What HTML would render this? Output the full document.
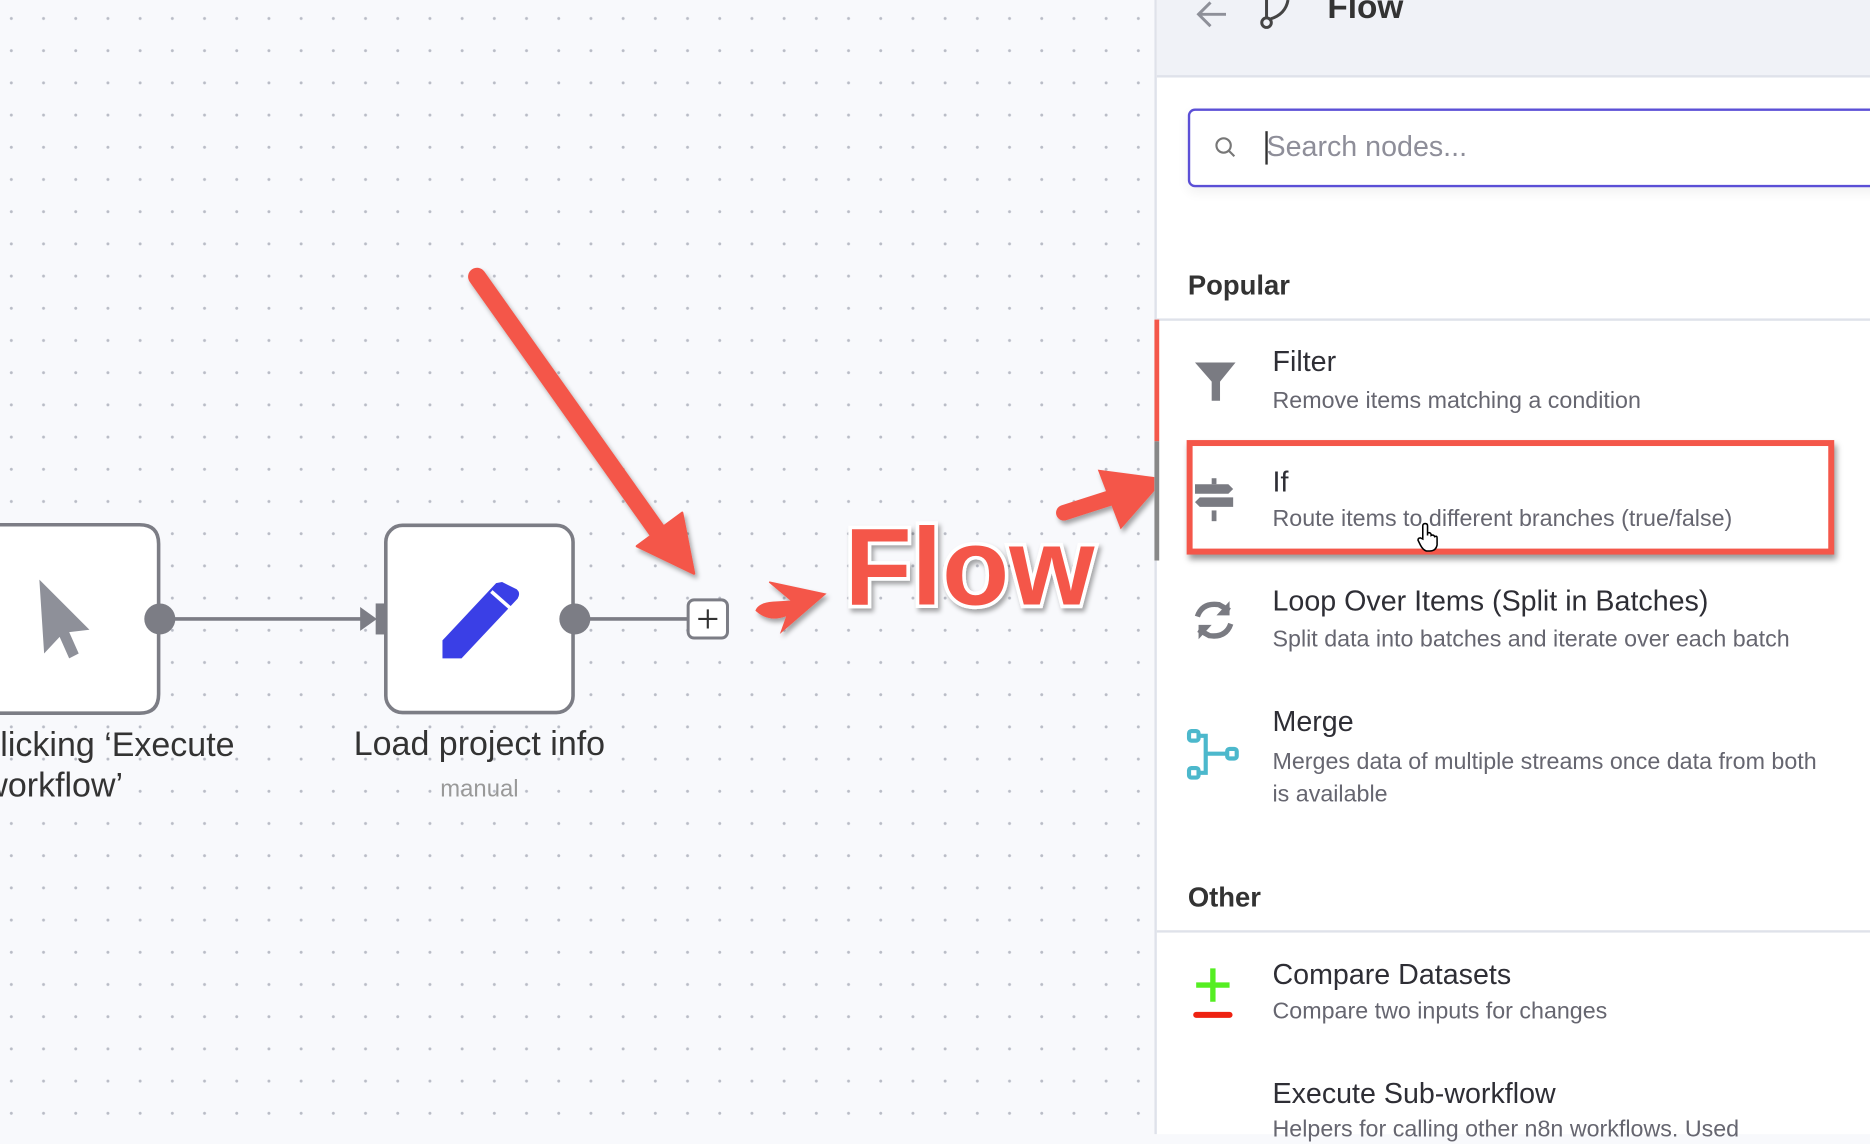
<!DOCTYPE html>
<html><head><meta charset="utf-8"><style>
html,body{margin:0;padding:0;width:1870px;height:1134px;overflow:hidden;background:#f8f9fc}
#s{position:absolute;left:0;top:0;width:1568px;height:951px;transform:scale(1.1926);transform-origin:0 0;font-family:"Liberation Sans",sans-serif}
.a{position:absolute;white-space:nowrap}
.canvas{position:absolute;left:0;top:0;width:968px;height:951px;background-color:#f8f9fc;background-image:radial-gradient(circle,#b9bcc6 1.1px,transparent 1.4px);background-size:27px 27px;background-position:-4px 2px}
.panel{position:absolute;left:968px;top:0;width:600px;height:951px;background:#fff;border-left:2px solid #dfe2ea}
.t{font-size:24px;color:#2e2e35}
.d{font-size:19.5px;color:#666670}
</style></head><body><div id="s">
<div class="canvas"></div>
<svg class="a" style="left:0;top:0" width="968" height="951">
 <path d="M-40 440 H117 Q133 440 133 456 V582 Q133 598 117 598 H-40" fill="#fff" stroke="#7c7d85" stroke-width="3"/>
 <path d="M33 486 L75 528 L58 530 L66 548 L58 552 L50 534 L37 548 Z" fill="#8e9099"/>
 <line x1="134" y1="519" x2="306" y2="519" stroke="#7c7d85" stroke-width="3"/>
 <path d="M302 509 L316 519 L302 529 Z" fill="#7c7d85"/>
 <rect x="315" y="506" width="13" height="26" fill="#7c7d85"/>
 <circle cx="134" cy="519" r="13" fill="#7c7d85"/>
 <rect x="323.5" y="440.5" width="157" height="157" rx="14" fill="#fff" stroke="#7c7d85" stroke-width="3"/>
 <path d="M421 488 L433 494 Q437 497 434 502 L387 552 L371 552 L371 537 L416 489 Z" fill="#3a3fe6"/>
 <line x1="412" y1="496" x2="428" y2="510" stroke="#fff" stroke-width="3"/>
 <line x1="482" y1="519" x2="577" y2="519" stroke="#7c7d85" stroke-width="3"/>
 <circle cx="482" cy="519" r="13" fill="#7c7d85"/>
 <rect x="577" y="503" width="33" height="32" rx="5" fill="#fff" stroke="#7c7d85" stroke-width="2.5"/>
 <path d="M593.5 511 V527 M585.5 519 H601.5" stroke="#333" stroke-width="1.8"/>
 <g fill="#f4574a" stroke="#f4574a" filter="url(#sh)">
  <line x1="400" y1="232" x2="558" y2="455" stroke-width="15" stroke-linecap="round"/>
  <path d="M534 458 L572 430 L582 481 Z" stroke-width="2" stroke-linejoin="round"/>
  <path d="M634 512 Q636 506 648 505 L664 504 L645 488 L692 498 L655 530 L660 516 Q645 522 634 512 Z" stroke-width="1"/>
  <line x1="892" y1="430" x2="945" y2="413" stroke-width="13" stroke-linecap="round"/>
  <path d="M922 395 L975 402 L940 442 Z" stroke-width="2"/>
 </g>
 <defs><filter id="sh"><feDropShadow dx="2" dy="3" stdDeviation="2" flood-color="#000" flood-opacity="0.35"/></filter></defs>
 <text x="813" y="507" text-anchor="middle" font-family="Liberation Sans,sans-serif" font-weight="bold" font-size="92" fill="#f4574a" stroke="#fff" stroke-width="6" paint-order="stroke" filter="url(#sh)">Flow</text>
</svg>
<div class="a" style="left:-14px;top:608px;font-size:28.5px;color:#333;line-height:34px">clicking ‘Execute<br>workflow’</div>
<div class="a" style="left:290px;top:608px;font-size:28.5px;color:#333;width:224px;text-align:center">Load project info</div>
<div class="a" style="left:290px;top:651px;font-size:20px;color:#999;width:224px;text-align:center">manual</div>

<div class="panel">
 <div class="a" style="left:0;top:0;width:600px;height:63px;background:#f0f2f7;border-bottom:2px solid #dfe2ea"></div>
 <svg class="a" style="left:30px;top:0" width="110" height="30"><path d="M28 12 H6 M15 2 L5 12 L15 22" stroke="#8e9099" stroke-width="2.5" fill="none"/><g stroke="#444" stroke-width="2.5" fill="none"><circle cx="62" cy="19" r="4"/><path d="M62 15 V0 M65 16 Q78 12 80 0"/></g></svg>
 <div class="a" style="left:143px;top:-10px;font-size:28px;font-weight:bold;color:#333">Flow</div>
 <div class="a" style="left:26px;top:91px;width:600px;height:62px;border:2px solid #5b4fd6;border-radius:6px;box-shadow:0 4px 10px rgba(0,0,0,.06)"></div>
 <svg class="a" style="left:48px;top:114px" width="20" height="20"><circle cx="8" cy="8" r="6" stroke="#777" stroke-width="1.8" fill="none"/><path d="M12.5 12.5 L17 17" stroke="#777" stroke-width="1.8"/></svg>
 <div class="a" style="left:91px;top:110px;width:1.5px;height:28px;background:#333"></div>
 <div class="a" style="left:92px;top:110px;font-size:24px;color:#8e8e99">Search nodes...</div>
 <div class="a t" style="left:26px;top:226px;font-weight:bold;color:#333;font-size:23px">Popular</div>
 <div class="a" style="left:0;top:267px;width:600px;height:2px;background:#dfe2ea"></div>
 <div class="a" style="left:-2px;top:268px;width:4px;height:102px;background:#f4574a"></div>
 <div class="a" style="left:-2px;top:370px;width:4px;height:100px;background:#888"></div>
 <svg class="a" style="left:30px;top:302px" width="40" height="40"><path d="M2 2 H36 L23 18 V34 L16 34 V18 Z" fill="#7a7b82"/></svg>
 <div class="a t" style="left:97px;top:290px">Filter</div>
 <div class="a d" style="left:97px;top:325px">Remove items matching a condition</div>
 <div class="a" style="left:25px;top:369px;width:533px;height:86px;border:5px solid #f4574a;box-shadow:2px 4px 5px rgba(0,0,0,.4)"></div>
 <svg class="a" style="left:30px;top:400px" width="40" height="40"><g fill="#7a7b82"><path d="M2 6 H30 L34 10 L30 14 H2 Z"/><path d="M6 17 H34 V25 H6 L2 21 Z"/><rect x="16" y="1" width="4" height="5"/><rect x="16" y="28" width="4" height="9"/></g></svg>
 <div class="a t" style="left:97px;top:391px">If</div>
 <div class="a d" style="left:97px;top:424px">Route items to different branches (true/false)</div>
 <svg class="a" style="left:217px;top:438px" width="20" height="26"><path d="M6 14 V3 Q6 1 8 1 Q10 1 10 3 V11 V9 Q12 8 13 10 V11 Q15 10 16 12 Q18 11 18 13 V19 Q17 24 12 24 H9 Q6 23 4 19 L2 15 Q2 13 4 13 Z" fill="#fff" stroke="#000" stroke-width="1.3"/></svg>
 <svg class="a" style="left:30px;top:502px" width="36" height="36"><g stroke="#7a7b82" stroke-width="4.5" fill="none"><path d="M4 15 Q8 3 22 5 L31 10"/><path d="M32 21 Q28 33 14 31 L5 26"/></g><path d="M31 2 V14 H20 Z M5 34 V22 H16 Z" fill="#7a7b82"/></svg>
 <div class="a t" style="left:97px;top:491px">Loop Over Items (Split in Batches)</div>
 <div class="a d" style="left:97px;top:525px">Split data into batches and iterate over each batch</div>
 <svg class="a" style="left:25px;top:610px" width="46" height="46"><g stroke="#4cb8cc" stroke-width="3.5" fill="none"><rect x="2" y="3" width="8" height="8" rx="2"/><rect x="2" y="34" width="8" height="8" rx="2"/><rect x="34" y="18" width="8" height="8" rx="2"/><path d="M10 7 H16 V38 H10 M16 22 H34"/></g></svg>
 <div class="a t" style="left:97px;top:592px">Merge</div>
 <div class="a d" style="left:97px;top:626px;line-height:27px">Merges data of multiple streams once data from both<br>is available</div>
 <div class="a t" style="left:26px;top:739px;font-weight:bold;color:#333;font-size:23px">Other</div>
 <div class="a" style="left:0;top:780px;width:600px;height:2px;background:#dfe2ea"></div>
 <svg class="a" style="left:30px;top:810px" width="36" height="46"><path d="M17 2 V30 M3 16 H31" stroke="#55ee22" stroke-width="4.5"/><path d="M3 41 H31" stroke="#ee2211" stroke-width="5" stroke-linecap="round"/></svg>
 <div class="a t" style="left:97px;top:804px">Compare Datasets</div>
 <div class="a d" style="left:97px;top:837px">Compare two inputs for changes</div>
 <div class="a t" style="left:97px;top:904px">Execute Sub-workflow</div>
 <div class="a d" style="left:97px;top:936px">Helpers for calling other n8n workflows. Used</div>
</div>
</div></body></html>
